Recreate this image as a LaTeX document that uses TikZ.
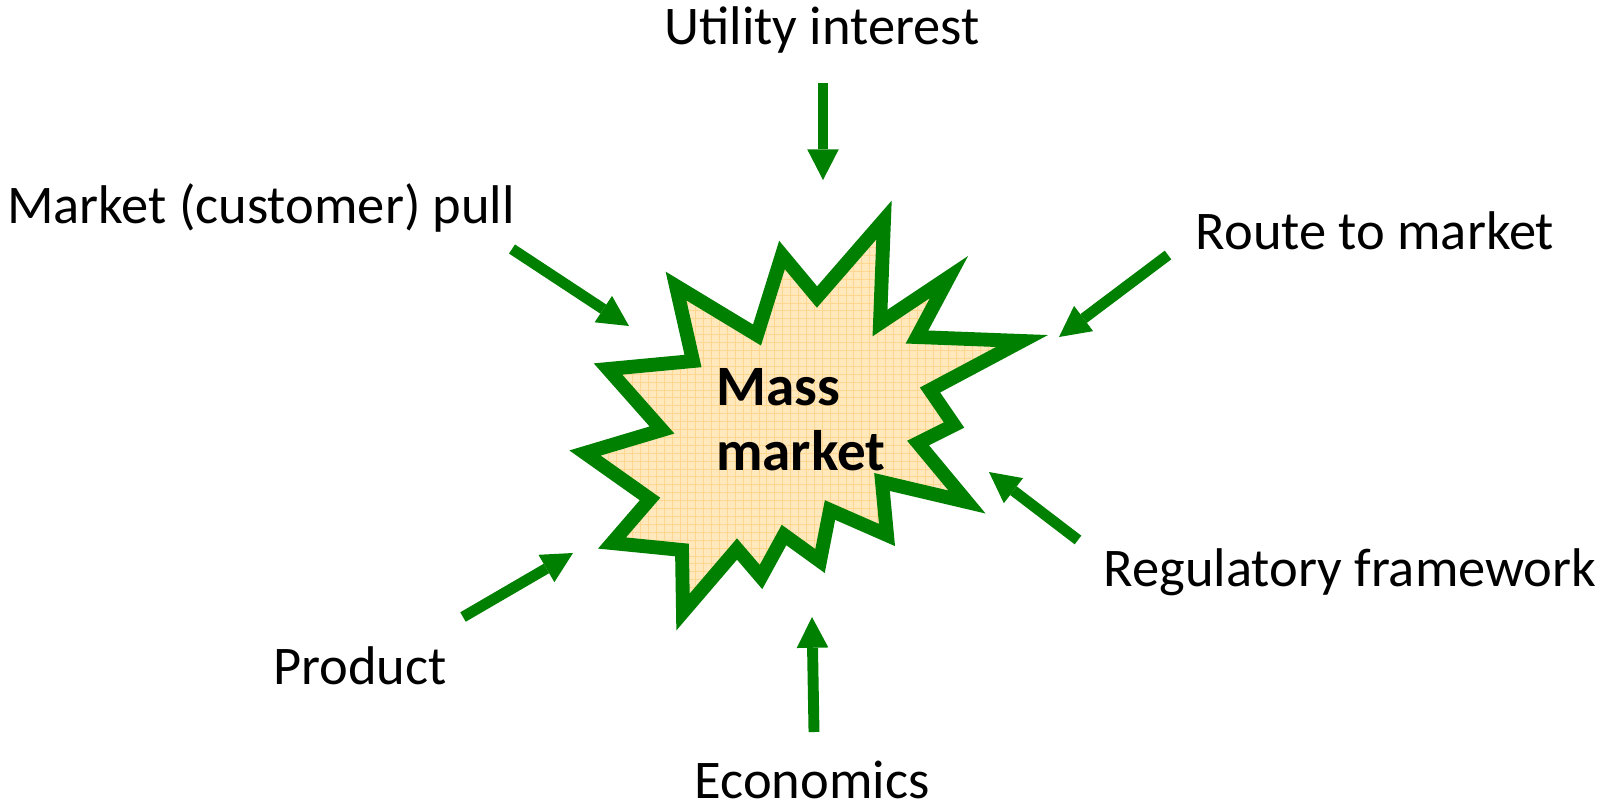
\documentclass[tikz,border=0pt]{standalone}
\usepackage{fontspec}
\setmainfont{Carlito}
\usetikzlibrary{arrows.meta, patterns.meta}

\definecolor{burstgreen}{HTML}{008000}
\definecolor{burstfill}{HTML}{FFE8BC}
\definecolor{burstgrid}{HTML}{FFD690}

\begin{document}
\begin{tikzpicture}[
		x=0.02cm, y=-0.02cm,
		force/.style={draw=burstgreen, line width=6.2pt, -{Triangle[length=17.5pt, width=18pt, line width=0pt]}},
		driver/.style={inner sep=0pt, anchor=base, text depth=0pt, font=\fontsize{31}{37}\selectfont},
		centre/.style={inner sep=0pt, align=left, font=\fontsize{32.5}{37}\selectfont\bfseries},
		burst/.style={draw=burstgreen, line width=7.9pt, line join=miter,
			preaction={fill=burstfill},
			preaction={pattern={Hatch[angle=0, distance=4.5pt, line width=0.5pt]}, pattern color=burstgrid}},
	]
	\useasboundingbox (0,0) rectangle (1606,809);

	% the burst
	\path[burst] (884,220) -- (880,323) -- (949,277) -- (917,337) -- (1022,341) -- (930,390)
		-- (954,425) -- (918,443) -- (967,502) -- (882,482) -- (887,535) -- (830,510)
		-- (820,561) -- (784,535) -- (761,577) -- (737,549) -- (683,612) -- (682,550)
		-- (612,543) -- (650,499) -- (585,453) -- (662,430) -- (608,369) -- (693,361)
		-- (676,286) -- (757,335) -- (782,255) -- (817,297) -- cycle;
	\node[centre, anchor=base west] (mass) at (716,470) {Mass\\market};

	% drivers
	\node[driver] (utility) at (822,44) {Utility interest};
	\node[driver] (pull) at (261,223) {Market (customer) pull};
	\node[driver] (route) at (1375,249) {Route to market};
	\node[driver] (regulation) at (1350,586) {Regulatory framework};
	\node[driver] (product) at (360,684) {Product};
	\node[driver] (economics) at (812,798) {Economics};

	\coordinate (utility_s) at (823,83);
	\coordinate (utility_e) at (823,180);
	\coordinate (pull_s) at (512,249);
	\coordinate (pull_e) at (629,326);
	\coordinate (route_s) at (1168,255);
	\coordinate (route_e) at (1059,337);
	\coordinate (regulation_s) at (1078,540);
	\coordinate (regulation_e) at (989,472);
	\coordinate (economics_s) at (814,732);
	\coordinate (economics_e) at (812,617);
	\coordinate (product_s) at (463,617);
	\coordinate (product_e) at (573,553);

	\draw[force] (utility_s) -- (utility_e);
	\draw[force] (pull_s) -- (pull_e);
	\draw[force] (route_s) -- (route_e);
	\draw[force] (regulation_s) -- (regulation_e);
	\draw[force] (economics_s) -- (economics_e);
	\draw[force] (product_s) -- (product_e);
\end{tikzpicture}
\end{document}
